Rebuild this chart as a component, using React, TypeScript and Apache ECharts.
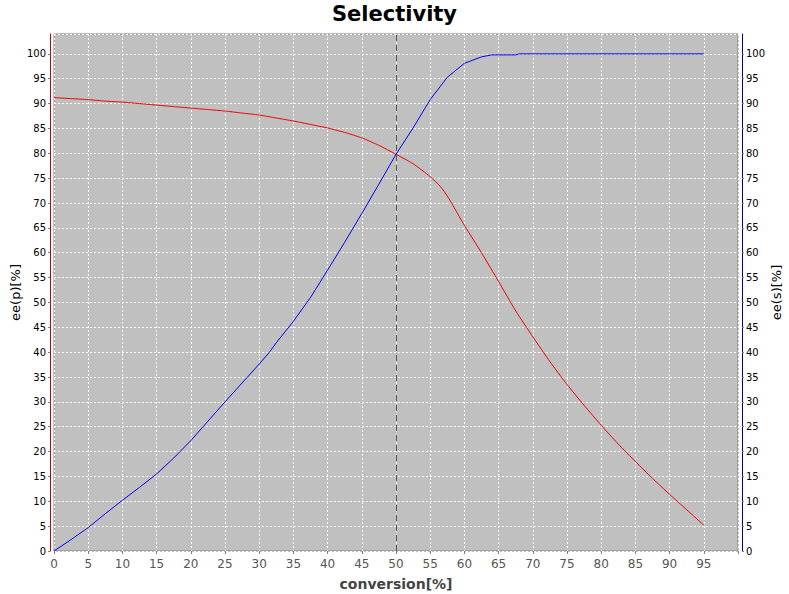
import React, { useEffect, useRef } from "react";
import * as echarts from "echarts";

const conversion = [0, 2.5, 5, 7.5, 10, 12.5, 15, 17.5, 20, 22.5, 25, 27.5, 30, 32.5, 35, 37.5, 40, 42.5, 45, 47.5, 50, 52.5, 55, 56.5, 57.5, 58.5, 60, 62.5, 65, 67.5, 70, 72.5, 75, 77.5, 80, 82.5, 85, 87.5, 90, 92.5, 95];
const eeP = [91.2, 91.0, 90.8, 90.5, 90.3, 90.0, 89.7, 89.4, 89.1, 88.8, 88.5, 88.1, 87.7, 87.1, 86.5, 85.8, 85.1, 84.2, 83.1, 81.6, 79.8, 77.9, 75.3, 73.3, 71.4, 69.1, 65.5, 60.0, 54.2, 48.3, 43.1, 38.1, 33.5, 29.3, 25.3, 21.5, 18.0, 14.6, 11.4, 8.3, 5.2];

const conversionS = [0, 2.5, 5, 7.5, 10, 12.5, 15, 17.5, 20, 22.5, 25, 27.5, 30, 31.5, 32.5, 35, 37.5, 40, 42.5, 45, 47.5, 50, 52.5, 55, 57.5, 60, 62.5, 64, 67.5, 68, 70, 75, 80, 85, 90, 95];
const eeS = [0, 2.3, 4.7, 7.5, 10.2, 12.8, 15.5, 18.7, 22.2, 26.1, 30.0, 33.8, 37.6, 40.0, 41.9, 46.2, 51.0, 56.5, 62.1, 67.9, 73.8, 79.8, 85.1, 90.8, 95.3, 98.1, 99.4, 99.8, 99.8, 100, 100, 100, 100, 100, 100, 100];

const xTicks = [0, 5, 10, 15, 20, 25, 30, 35, 40, 45, 50, 55, 60, 65, 70, 75, 80, 85, 90, 95];
const halfLine = 50;

const FONT = "DejaVu Sans";

export default function App() {
  const ref = useRef<HTMLDivElement>(null);
  useEffect(() => {
    if (!ref.current) return;
    const chart = echarts.init(ref.current, undefined, { renderer: "svg" });
    const yLabelFmt = (v: number) => (v % 5 === 0 && v <= 100 ? String(v) : "");
    chart.setOption({
      animation: false,
      backgroundColor: "#ffffff",
      title: {
        text: "Selectivity",
        left: "center",
        top: -2,
        textStyle: { fontFamily: FONT, fontWeight: "bold", fontSize: 21, color: "#000" },
      },
      grid: {
        left: 54,
        right: 51,
        top: 34,
        bottom: 43,
        containLabel: false,
        outerBoundsMode: "none",
        show: true,
        backgroundColor: "#c0c0c0",
        borderColor: "#808080",
        borderWidth: 1,
      },
      xAxis: {
        type: "value",
        min: 0,
        max: 100,
        interval: 5,
        name: "conversion[%]",
        nameLocation: "middle",
        nameGap: 26,
        nameMoveOverlap: false,
        nameTextStyle: { fontFamily: FONT, fontWeight: "bold", fontSize: 14, color: "#444" },
        axisLine: { show: false, onZero: false },
        axisTick: { show: true, length: 3, lineStyle: { color: "#808080" } },
        axisLabel: {
          fontFamily: FONT,
          fontSize: 12,
          color: "#555",
          margin: 7,
          formatter: (v: number) => (xTicks.includes(v) ? String(v) : ""),
        },
        splitLine: { show: true, lineStyle: { color: "#ffffff", type: [2, 2], width: 1 } },
      },
      yAxis: [
        {
          type: "value",
          position: "left",
          min: 0,
          max: 104,
          interval: 5,
          offset: 4,
          name: "ee(p)[%]",
          nameLocation: "middle",
          nameGap: 28,
          nameRotate: 90,
          nameMoveOverlap: false,
          nameTextStyle: { fontFamily: FONT, fontSize: 13, color: "#000" },
          axisLine: { show: true, onZero: false, lineStyle: { color: "#cc0000", width: 1 } },
          axisTick: { show: true, length: 2, lineStyle: { color: "#808080" } },
          axisLabel: { fontFamily: FONT, fontSize: 10, color: "#000", margin: 4, formatter: yLabelFmt, showMaxLabel: false },
          splitLine: { show: true, lineStyle: { color: "#ffffff", type: [2, 2], width: 1 } },
        },
        {
          type: "value",
          position: "right",
          min: 0,
          max: 104,
          interval: 5,
          offset: 4,
          name: "ee(s)[%]",
          nameLocation: "middle",
          nameGap: 28,
          nameRotate: 90,
          nameMoveOverlap: false,
          nameTextStyle: { fontFamily: FONT, fontSize: 13, color: "#000" },
          axisLine: { show: true, onZero: false, lineStyle: { color: "#000099", width: 1 } },
          axisTick: { show: true, length: 2, lineStyle: { color: "#808080" } },
          axisLabel: { fontFamily: FONT, fontSize: 10, color: "#000", margin: 4, formatter: yLabelFmt, showMaxLabel: false },
          splitLine: { show: false },
        },
      ],
      series: [
        {
          name: "ee(p)",
          type: "line",
          yAxisIndex: 0,
          data: conversion.map((c, i) => [c, eeP[i]]),
          showSymbol: false,
          smooth: 0.2,
          lineStyle: { color: "#ee0000", width: 1 },
          itemStyle: { color: "#ee0000" },
          markLine: {
            silent: true,
            symbol: "none",
            label: { show: false },
            lineStyle: { color: "#555555", type: [6, 4], width: 1 },
            data: [{ xAxis: halfLine }],
          },
        },
        {
          name: "ee(s)",
          type: "line",
          yAxisIndex: 1,
          data: conversionS.map((c, i) => [c, eeS[i]]),
          showSymbol: false,
          lineStyle: { color: "#0000ee", width: 1 },
          itemStyle: { color: "#0000ee" },
        },
      ],
    });
    return () => chart.dispose();
  }, []);
  return <div ref={ref} style={{ width: 789, height: 594, position: "absolute", left: 0, top: 0 }} />;
}
